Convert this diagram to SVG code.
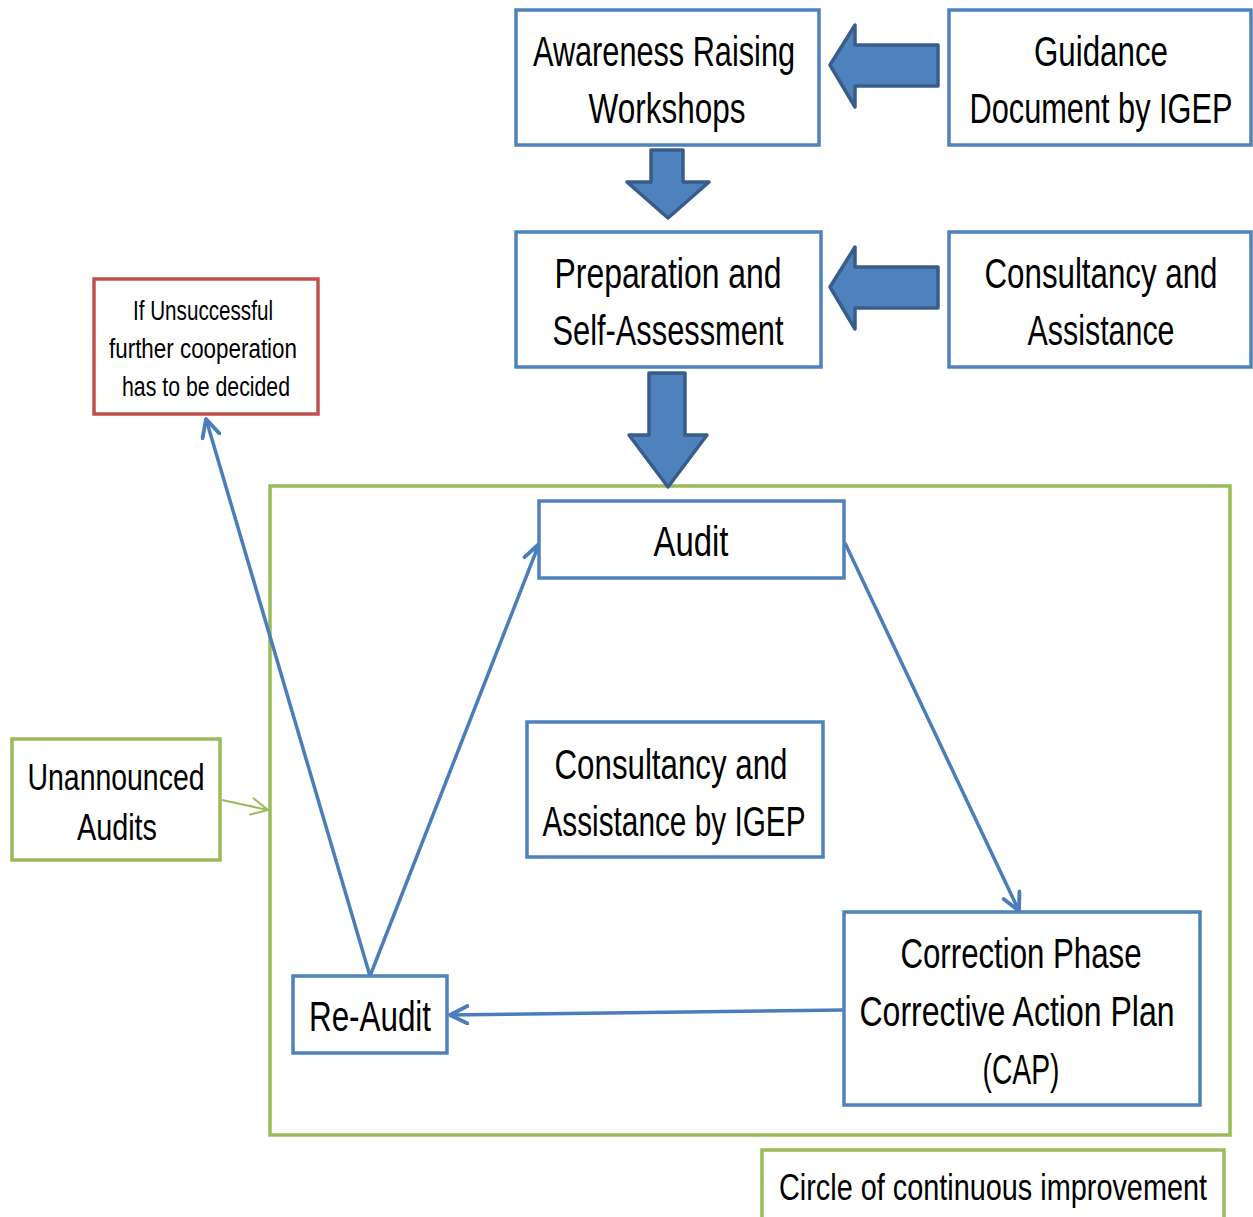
<svg xmlns="http://www.w3.org/2000/svg" width="1253" height="1217" viewBox="0 0 1253 1217">
<style>
.box{fill:#fff;stroke:#4F81BD;stroke-width:3.5}
.red{fill:#fff;stroke:#C0504D;stroke-width:3.5}
.grn{fill:none;stroke:#9BBB59;stroke-width:3.5}
.blk{fill:#4F81BD;stroke:#385D8A;stroke-width:3.5;stroke-linejoin:round}
.t{font-family:"Liberation Sans",Arial,sans-serif;font-size:42px;fill:#000;text-anchor:middle}
.s{font-size:27px}
.m{font-size:37px}
.con{fill:none;stroke:#4A7EBB;stroke-width:3.5}
</style>
<defs>
<marker id="ab" viewBox="0 0 12 12" refX="11" refY="6" markerWidth="6" markerHeight="6" orient="auto" markerUnits="strokeWidth">
<path d="M1,1 L11,6 L1,11" fill="none" stroke="#4A7EBB" stroke-width="2.2" stroke-linecap="round" stroke-linejoin="round"/>
</marker>
<marker id="ag" viewBox="0 0 12 12" refX="11" refY="6" markerWidth="10" markerHeight="10" orient="auto" markerUnits="strokeWidth">
<path d="M1,1 L11,6 L1,11" fill="none" stroke="#9BBB59" stroke-width="1.2" stroke-linecap="round"/>
</marker>
</defs>
<rect id="circle" class="grn" x="270" y="486" width="960" height="649"/>
<g id="blockarrows">
<path class="blk" d="M938,45 L855,45 L855,25 L830,65 L855,107 L855,86 L938,86 Z"/>
<path class="blk" d="M938,267 L855,267 L855,247 L830,287 L855,329 L855,308 L938,308 Z"/>
<path class="blk" d="M651,150 L683,150 L683,182 L709,182 L668,218 L627,182 L651,182 Z"/>
<path class="blk" d="M649,373 L685,373 L685,435 L707,435 L668,487 L629,435 L649,435 Z"/>
</g>
<g id="connectors">
<line class="con" x1="370" y1="976" x2="539" y2="544" marker-end="url(#ab)"/>
<line class="con" x1="370" y1="976" x2="206" y2="419" marker-end="url(#ab)"/>
<line class="con" x1="845" y1="543" x2="1019" y2="911" marker-end="url(#ab)"/>
<line class="con" x1="844" y1="1010" x2="450" y2="1015" marker-end="url(#ab)"/>
<line fill="none" stroke="#9BBB59" stroke-width="2" x1="222" y1="800" x2="268" y2="810" marker-end="url(#ag)"/>
</g>
<g id="awareness"><rect class="box" x="516" y="10" width="303" height="135"/>
<text class="t" x="664" y="66" textLength="262" lengthAdjust="spacingAndGlyphs">Awareness Raising</text>
<text class="t" x="667" y="123" textLength="157" lengthAdjust="spacingAndGlyphs">Workshops</text></g>
<g id="guidance"><rect class="box" x="949" y="10" width="302" height="135"/>
<text class="t" x="1101" y="66" textLength="134" lengthAdjust="spacingAndGlyphs">Guidance</text>
<text class="t" x="1101" y="123" textLength="263" lengthAdjust="spacingAndGlyphs">Document by IGEP</text></g>
<g id="preparation"><rect class="box" x="516" y="232" width="305" height="135"/>
<text class="t" x="668" y="288" textLength="227" lengthAdjust="spacingAndGlyphs">Preparation and</text>
<text class="t" x="668" y="345" textLength="231" lengthAdjust="spacingAndGlyphs">Self-Assessment</text></g>
<g id="consultancy"><rect class="box" x="949" y="232" width="302" height="135"/>
<text class="t" x="1101" y="288" textLength="233" lengthAdjust="spacingAndGlyphs">Consultancy and</text>
<text class="t" x="1101" y="345" textLength="147" lengthAdjust="spacingAndGlyphs">Assistance</text></g>
<g id="unsuccessful"><rect class="red" x="94" y="279" width="224" height="135"/>
<text class="t s" x="203" y="320" textLength="140" lengthAdjust="spacingAndGlyphs">If Unsuccessful</text>
<text class="t s" x="203" y="358" textLength="188" lengthAdjust="spacingAndGlyphs">further cooperation</text>
<text class="t s" x="206" y="396" textLength="168" lengthAdjust="spacingAndGlyphs">has to be decided</text></g>
<g id="audit"><rect class="box" x="539" y="501" width="305" height="77"/>
<text class="t" x="691" y="556" textLength="75" lengthAdjust="spacingAndGlyphs">Audit</text></g>
<g id="igep"><rect class="box" x="527" y="722" width="296" height="135"/>
<text class="t" x="671" y="779" textLength="233" lengthAdjust="spacingAndGlyphs">Consultancy and</text>
<text class="t" x="674" y="836" textLength="263" lengthAdjust="spacingAndGlyphs">Assistance by IGEP</text></g>
<g id="unannounced"><rect class="grn" x="12" y="739" width="208" height="121"/>
<text class="t m" x="116" y="790" textLength="177" lengthAdjust="spacingAndGlyphs">Unannounced</text>
<text class="t m" x="117" y="840" textLength="80" lengthAdjust="spacingAndGlyphs">Audits</text></g>
<g id="reaudit"><rect class="box" x="293" y="976" width="154" height="77"/>
<text class="t" x="370" y="1031" textLength="122" lengthAdjust="spacingAndGlyphs">Re-Audit</text></g>
<g id="correction"><rect class="box" x="844" y="912" width="356" height="193"/>
<text class="t" x="1021" y="968" textLength="241" lengthAdjust="spacingAndGlyphs">Correction Phase</text>
<text class="t" x="1017" y="1026" textLength="315" lengthAdjust="spacingAndGlyphs">Corrective Action Plan</text>
<text class="t" x="1021" y="1084" textLength="77" lengthAdjust="spacingAndGlyphs">(CAP)</text></g>
<g id="label"><rect class="grn" x="762" y="1150" width="462" height="80"/>
<text class="t m" x="993" y="1200" textLength="428" lengthAdjust="spacingAndGlyphs">Circle of continuous improvement</text></g>
</svg>
